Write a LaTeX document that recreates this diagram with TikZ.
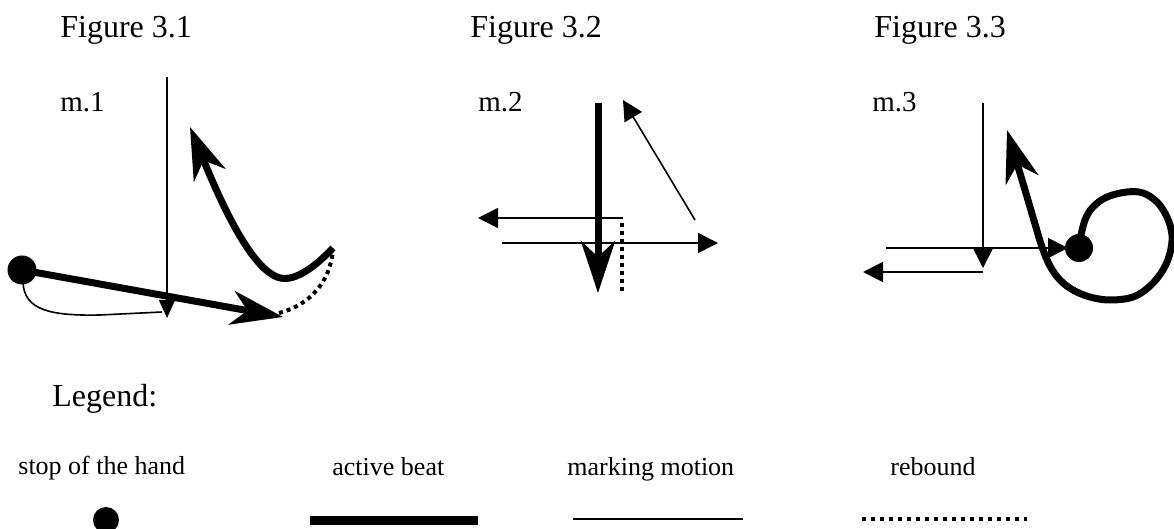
\documentclass[tikz,border=0pt]{standalone}
\usepackage{fontspec}
\setmainfont{Liberation Serif}
\usetikzlibrary{arrows.meta}
\begin{document}
\begin{tikzpicture}[x=0.5pt,y=-0.5pt,
  headtext/.style={anchor=base west,inner sep=0pt,font=\fontsize{16pt}{18pt}\selectfont},
  mtext/.style={anchor=base west,inner sep=0pt,font=\fontsize{14.5pt}{17pt}\selectfont},
  legtext/.style={anchor=base west,inner sep=0pt,font=\fontsize{13pt}{15pt}\selectfont},
  markline/.style={line width=0.8pt},
  beatline/.style={line width=3.5pt},
  reboundline/.style={line width=2pt,dash pattern=on 2pt off 2pt},
  bigtip/.style={-{Stealth[length=26pt,width=17pt,inset=8pt]}},
  smalltip/.style={-{Triangle[length=10pt,width=10pt]}},
  tinytip/.style={-{Triangle[length=9pt,width=8pt]}},
  handstop/.style={circle,fill=black,inner sep=0pt,minimum size=#1}
]
\useasboundingbox (0,0) rectangle (1174,529);

% headings
\node[headtext] (h1) at (60,38) {Figure 3.1};
\node[headtext] (h2) at (470,38) {Figure 3.2};
\node[headtext] (h3) at (874,38) {Figure 3.3};
\node[mtext] (m1) at (60,112) {m.1};
\node[mtext] (m2) at (478,112) {m.2};
\node[mtext] (m3) at (872,112) {m.3};

% ---------- Figure 3.1 ----------
\coordinate (a1) at (167,77);
\coordinate (a2) at (167,318);
\draw[markline,tinytip] (a1) -- (a2);
\node[handstop=14.5pt] (d1) at (22,270) {};
\coordinate (c1) at (23,282);
\coordinate (c2) at (100,315);
\coordinate (c3) at (162,312);
\draw[markline] (c1) .. controls (24,310) and (50,316) .. (c2) -- (c3);
\coordinate (b1) at (283,317);
\draw[beatline,bigtip] (d1.center) -- (b1);
\coordinate (r1) at (279,313);
\coordinate (r2) at (333,250);
\draw[reboundline] (r1) .. controls (310,305) and (330,282) .. (r2);
\coordinate (k1) at (333,248);
\coordinate (k2) at (277,277);
\coordinate (k3) at (190,127);
\draw[beatline,bigtip] (k1) .. controls (312,270) and (292,283) .. (k2)
  .. controls (255,268) and (230,225) .. (k3);

% ---------- Figure 3.2 ----------
\coordinate (p1) at (598,103);
\coordinate (p2) at (598,293);
\coordinate (q1) at (695,220);
\coordinate (q2) at (623,100);
\coordinate (s1) at (623,218);
\coordinate (s2) at (478,218);
\coordinate (t1) at (502,243);
\coordinate (t2) at (718,243);
\coordinate (u1) at (622,223);
\coordinate (u2) at (622,292);
\draw[markline,smalltip] (s1) -- (s2);
\draw[markline,smalltip] (t1) -- (t2);
\draw[markline,smalltip] (q1) -- (q2);
\draw[reboundline] (u1) -- (u2);
\draw[beatline,bigtip] (p1) -- (p2);

% ---------- Figure 3.3 ----------
\coordinate (v1) at (983,103);
\coordinate (v2) at (983,268);
\coordinate (w1) at (886,248);
\coordinate (w2) at (1068,248);
\coordinate (x1) at (983,272);
\coordinate (x2) at (863,272);
\draw[markline,smalltip] (v1) -- (v2);
\draw[markline,smalltip] (w1) -- (w2);
\draw[markline,smalltip] (x1) -- (x2);
\node[handstop=14pt] (d3) at (1079,248) {};
\draw[beatline,bigtip] plot[smooth,tension=0.6] coordinates {
  (1080,240) (1085,220) (1093,207) (1107,197) (1127,192) (1143,193)
  (1157,202) (1167,217) (1172,235) (1170,253) (1163,270) (1150,286)
  (1133,297) (1110,300) (1090,297) (1073,290) (1060,280) (1050,266)
  (1042,247) (1035,224) (1025,190) (1007,130)};

% ---------- Legend ----------
\node[headtext] (lg) at (52,407) {Legend:};
\node[legtext] (l1) at (18,474) {stop of the hand};
\node[legtext] (l2) at (332,475) {active beat};
\node[legtext] (l3) at (567,475) {marking motion};
\node[legtext] (l4) at (890,475) {rebound};
\node[handstop=13pt] (ld) at (106,520) {};
\coordinate (lb1) at (310,520.5);
\coordinate (lb2) at (478,520.5);
\draw[line width=4.5pt] (lb1) -- (lb2);
\coordinate (lm1) at (573,519);
\coordinate (lm2) at (743,519);
\draw[line width=1pt] (lm1) -- (lm2);
\coordinate (lr1) at (862,519);
\coordinate (lr2) at (1027,519);
\draw[line width=2pt,dash pattern=on 2pt off 2.5pt] (lr1) -- (lr2);
\end{tikzpicture}
\end{document}
